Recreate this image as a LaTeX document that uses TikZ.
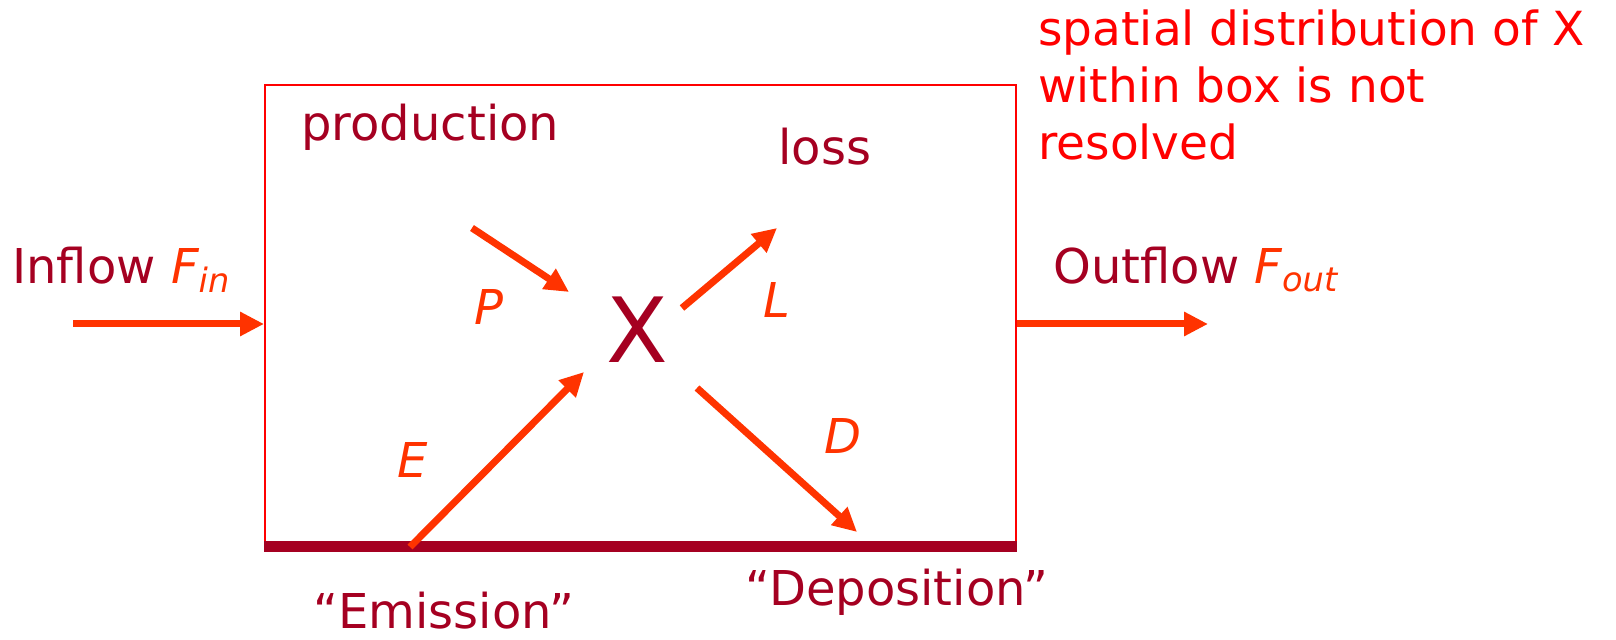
\documentclass[tikz,border=0pt]{standalone}
\usepackage{fontspec}
\setmainfont{DejaVu Sans}
\usetikzlibrary{arrows.meta, positioning, calc}

\definecolor{wine}{HTML}{A50021}
\definecolor{flux}{HTML}{FF3300}

\begin{document}
\begin{tikzpicture}[
    x=0.5pt, y=-0.5pt,
    lbl/.style={inner sep=0pt, text=wine, font=\fontsize{24}{28}\selectfont},
    rate/.style={inner sep=0pt, text=flux, font=\fontsize{24}{28}\selectfont\itshape},
    flow/.style={-{Triangle[length=12pt, width=11.5pt]}, line width=3.5pt, draw=flux},
]
\useasboundingbox (0,0) rectangle (1616,640);

% ---- Box ----
\node[draw=red, line width=1pt, inner sep=0pt,
      minimum width=375.5pt, minimum height=229.5pt] (box) at (640.5,314.5) {};
\draw[wine, line width=5.5pt] ([yshift=-0.7pt]box.south west) -- ([yshift=-0.7pt]box.south east);

% ---- Inflow / Outflow ----
\coordinate (inStart) at (73,324);
\coordinate (outEnd) at (1208,324);
\draw[flow] (inStart) -- (inStart -| box.west);
\draw[flow] (outEnd -| box.east) -- (outEnd);

\node[lbl, anchor=base west] (inflow) at (12,284)
    {Inflow {\color{flux}\itshape F\textsubscript{in}}};
\node[lbl, anchor=base west] (outflow) at (1053,284)
    {Outflow {\color{flux}\itshape F\textsubscript{out}}};

% ---- Species ----
\node[inner sep=0pt, text=wine, font=\fontsize{45}{50}\selectfont] (X) at (637,330) {X};

\node[lbl, anchor=base west] (prod) at (301,141) {production};
\node[lbl, anchor=base west] (loss) at (778,165) {loss};

% ---- Rates ----
\coordinate (pFrom) at (472,228);
\coordinate (pTo) at (569,292);
\coordinate (lFrom) at (682,308);
\coordinate (lTo) at (777,228);
\coordinate (eFrom) at (410,547);
\coordinate (eTo) at (584,372);
\coordinate (dFrom) at (697,388);
\coordinate (dTo) at (857,532);

\draw[flow] (pFrom) -- (pTo);
\draw[flow] (lFrom) -- (lTo);
\draw[flow] (eFrom) -- (eTo);
\draw[flow] (dFrom) -- (dTo);

\node[rate] (P) at (489,307) {P};
\node[rate] (L) at (777,300) {L};
\node[rate] (E) at (413,460) {E};
\node[rate] (D) at (843,436) {D};

% ---- Surface labels ----
\node[lbl, anchor=base] (emis) at (444,628) {“Emission”};
\node[lbl, anchor=base] (depo) at (897,605) {“Deposition”};

% ---- Note (anchored at last baseline) ----
\node[inner sep=0pt, text=red, anchor=base west, align=left,
      font=\fontsize{23.5}{28.5}\selectfont] (note) at (1038,160)
    {spatial distribution of X\\within box is not\\resolved};

\end{tikzpicture}
\end{document}
